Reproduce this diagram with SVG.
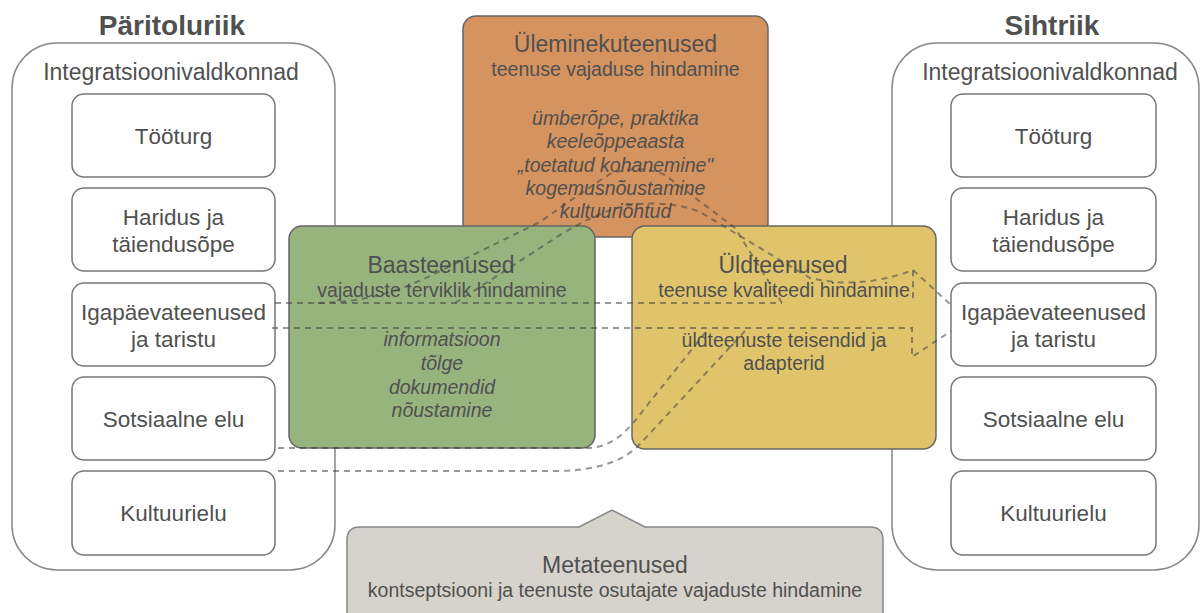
<svg xmlns="http://www.w3.org/2000/svg" width="1203" height="613" viewBox="0 0 1203 613">
<style>
text{font-family:"Liberation Sans",Arial,sans-serif;fill:#505050;text-anchor:middle}
.title{font-size:28px;font-weight:bold}
.cap{font-size:23px}
.dom{font-size:22.5px}
.h{font-size:23px}
.s{font-size:19.5px}
.i{font-size:19.5px;font-style:italic}
.cont{fill:#fff;stroke:#888;stroke-width:1.5}
.dbox{fill:#fff;stroke:#777;stroke-width:1.5}
.svc{stroke:#666;stroke-width:1.5}
.dash{fill:none;stroke:#444;stroke-opacity:0.55;stroke-width:2;stroke-dasharray:6 5}
</style>
<rect width="1203" height="613" fill="#fff"/>

<g id="origin">
<text class="title" x="172" y="35">Päritoluriik</text>
<rect class="cont" x="12" y="43" width="323" height="527" rx="45"/>
<text class="cap" x="171" y="80">Integratsioonivaldkonnad</text>
</g>
<g id="o-tooturg"><rect class="dbox" x="72" y="94" width="203" height="83" rx="12"/><text class="dom" x="173.5" y="144">Tööturg</text></g>
<g id="o-haridus"><rect class="dbox" x="72" y="188" width="203" height="83" rx="12"/><text class="dom" x="173.5" y="225">Haridus ja</text><text class="dom" x="173.5" y="252">täiendusõpe</text></g>
<g id="o-igapaeva"><rect class="dbox" x="72" y="283" width="203" height="83" rx="12"/><text class="dom" x="173.5" y="320">Igapäevateenused</text><text class="dom" x="173.5" y="347">ja taristu</text></g>
<g id="o-sots"><rect class="dbox" x="72" y="377" width="203" height="83" rx="12"/><text class="dom" x="173.5" y="427">Sotsiaalne elu</text></g>
<g id="o-kult"><rect class="dbox" x="72" y="471" width="203" height="84" rx="12"/><text class="dom" x="173.5" y="521">Kultuurielu</text></g>

<g id="target">
<text class="title" x="1052" y="35">Sihtriik</text>
<rect class="cont" x="892" y="43" width="307" height="527" rx="45"/>
<text class="cap" x="1050" y="80">Integratsioonivaldkonnad</text>
</g>
<g id="t-tooturg"><rect class="dbox" x="951" y="94" width="205" height="83" rx="12"/><text class="dom" x="1053.5" y="144">Tööturg</text></g>
<g id="t-haridus"><rect class="dbox" x="951" y="188" width="205" height="83" rx="12"/><text class="dom" x="1053.5" y="225">Haridus ja</text><text class="dom" x="1053.5" y="252">täiendusõpe</text></g>
<g id="t-igapaeva"><rect class="dbox" x="951" y="283" width="205" height="83" rx="12"/><text class="dom" x="1053.5" y="320">Igapäevateenused</text><text class="dom" x="1053.5" y="347">ja taristu</text></g>
<g id="t-sots"><rect class="dbox" x="951" y="377" width="205" height="83" rx="12"/><text class="dom" x="1053.5" y="427">Sotsiaalne elu</text></g>
<g id="t-kult"><rect class="dbox" x="951" y="471" width="205" height="84" rx="12"/><text class="dom" x="1053.5" y="521">Kultuurielu</text></g>

<g id="transition">
<rect class="svc" x="463" y="16" width="305" height="221" rx="13" fill="#d5935f"/>
<text class="h" x="615.5" y="52">Üleminekuteenused</text>
<text class="s" x="615.5" y="76">teenuse vajaduse hindamine</text>
<text class="i" x="615.5" y="125">ümberõpe, praktika</text>
<text class="i" x="615.5" y="148">keeleõppeaasta</text>
<text class="i" x="615.5" y="172">„toetatud kohanemine"</text>
<text class="i" x="615.5" y="195">kogemusnõustamine</text>
<text class="i" x="615.5" y="218">kultuuriõhtud</text>
</g>

<g id="basic">
<rect class="svc" x="289" y="226" width="306" height="222" rx="13" fill="#97b47f"/>
<text class="h" x="441" y="273">Baasteenused</text>
<text class="s" x="442" y="297">vajaduste terviklik hindamine</text>
<text class="i" x="442" y="346">informatsioon</text>
<text class="i" x="442" y="370">tõlge</text>
<text class="i" x="442" y="394">dokumendid</text>
<text class="i" x="442" y="417">nõustamine</text>
</g>

<g id="general">
<rect class="svc" x="632" y="226" width="304" height="223" rx="13" fill="#e0c46b"/>
<text class="h" x="783" y="273">Üldteenused</text>
<text class="s" x="784" y="297">teenuse kvaliteedi hindamine</text>
<text class="s" x="784" y="347">üldteenuste teisendid ja</text>
<text class="s" x="784" y="370">adapterid</text>
</g>

<g id="meta">
<path d="M360,527 H579 L612,510 L645,527 H870 Q883,527 883,540 V630 H347 V540 Q347,527 360,527 Z" fill="#d6d3cc" stroke="#888" stroke-width="1.5"/>
<text class="h" x="615" y="573">Metateenused</text>
<text class="s" x="615" y="597">kontseptsiooni ja teenuste osutajate vajaduste hindamine</text>
</g>

<g id="connectors">
<path class="dash" d="M275,303 H782"/>
<path class="dash" d="M272,328 H912 V357 L951,331"/>
<path class="dash" d="M318,303 C370,302 400,290 430,276 L540,222 Q585,190 610,174 Q640,164 665,175 L735,228 L782,303"/>
<path class="dash" d="M455,303 L557,237 Q600,210 630,205 Q670,200 700,212 L810,278 Q860,290 913,270 V300"/>
<path class="dash" d="M913,270 L951,305"/>
<path class="dash" d="M278,448 H590 C615,446 630,428 645,408 L705,333"/>
<path class="dash" d="M278,471 H560 C600,470 625,460 640,444 L745,331"/>
</g>
</svg>
